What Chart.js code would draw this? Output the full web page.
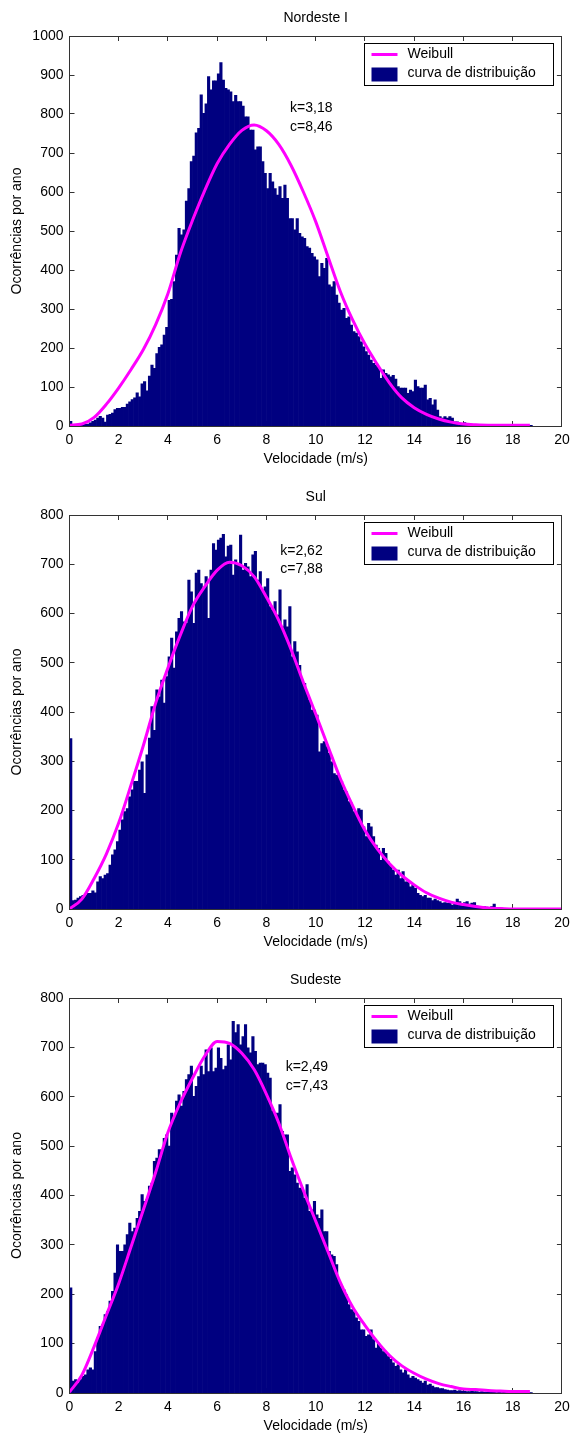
<!DOCTYPE html>
<html><head><meta charset="utf-8">
<script src="https://cdn.jsdelivr.net/npm/chart.js@4.4.1/dist/chart.umd.min.js"></script>
<style>
html,body{margin:0;padding:0;background:#fff;overflow:hidden;width:575px;height:1434px;}
.panel{position:absolute;left:0;width:575px;height:483px;}
canvas{display:block;}
</style></head><body>
<div class="panel" style="top:0px"><canvas id="c1" width="575" height="483"></canvas></div>
<div class="panel" style="top:479px"><canvas id="c2" width="575" height="483"></canvas></div>
<div class="panel" style="top:962px"><canvas id="c3" width="575" height="483"></canvas></div>
<script>
// ---------- DATA ----------
const titles = ['Nordeste I', 'Sul', 'Sudeste'];
const xTitle = 'Velocidade (m/s)';
const yTitle = 'Ocorrências por ano';
const seriesNames = ['Weibull', 'curva de distribuição'];
const binStart = 0, binWidth = 0.1;
const xTicks = [0,2,4,6,8,10,12,14,16,18,20];
const yMax = [1000, 800, 800];
const params = [['k=3,18','c=8,46'], ['k=2,62','c=7,88'], ['k=2,49','c=7,43']];

const counts1 = [
12,3,2,2,3,3,4,5,8,12,
15,20,25,20,10,28,30,33,42,45,
45,48,48,56,62,68,72,85,75,108,
114,90,128,156,148,186,202,208,233,253,
322,325,370,438,507,490,503,577,609,678,
692,752,763,849,802,826,896,862,885,885,
903,932,887,866,862,857,832,848,832,832,
820,793,793,759,759,708,716,716,678,648,
609,648,626,609,592,614,584,618,584,532,
532,503,532,494,485,481,460,456,443,434,
426,383,417,404,430,362,357,370,336,315,
297,302,276,280,259,242,238,229,216,203,
191,182,169,161,156,152,122,144,135,131,
126,130,120,101,97,97,97,84,92,88,
118,101,97,97,105,67,71,54,67,41,
24,20,24,20,24,20,11,11,7,7,
9,4,3,3,4,3,3,2,3,3,
2,3,2,2,3,2,2,3,2,2,
2,2,3,2,2,2,2,2];

const counts2 = [
346,17,18,22,25,28,28,32,32,37,
33,55,66,62,69,72,89,110,120,137,
160,181,198,204,228,242,259,259,282,299,
235,313,347,411,363,445,431,465,418,472,
512,550,489,563,590,604,583,580,668,644,
580,682,688,661,651,675,590,688,742,729,
749,753,761,715,737,739,678,709,700,759,
688,702,695,675,719,726,668,685,648,654,
671,614,607,624,597,648,573,587,573,614,
512,543,522,495,465,458,438,424,404,404,
394,319,336,340,330,316,299,275,272,269,
259,242,238,218,215,198,194,204,201,167,
147,174,167,147,130,123,99,123,113,96,
86,79,69,79,62,76,55,55,45,49,
42,32,28,25,28,22,22,17,20,17,
15,12,13,12,12,8,10,20,15,10,
13,15,10,12,13,6,5,4,5,4,
3,5,10,2,1,2,1,1,1,1,
1,1,1,1,1,1];

const counts3 = [
213,24,27,20,27,34,37,47,51,47,
84,111,135,138,159,165,186,206,243,300,
287,287,300,321,344,327,334,354,368,402,
388,392,419,425,469,476,493,489,516,523,
500,567,557,591,604,581,611,635,645,662,
601,621,641,662,645,695,651,699,651,658,
699,678,655,662,705,675,753,730,746,705,
722,746,699,689,722,692,665,668,668,665,
648,638,571,564,567,584,530,523,523,449,
456,442,425,415,415,395,422,368,371,388,
361,354,371,327,327,287,280,277,260,226,
216,209,199,179,169,165,152,145,128,128,
115,118,128,108,91,101,91,84,81,74,
68,61,54,57,47,41,47,37,30,34,
30,27,24,20,24,16,18,14,11,11,
9,9,7,6,5,5,6,4,5,4,
4,3,3,4,3,3,2,3,2,2,
3,2,2,1,2,1,2,1,1,2,
1,1,1,1,1,1,1,1];

const weibullX1 = [0,0.5,1,1.5,2,2.5,3,3.5,4,4.5,5,5.5,6,6.5,7,7.5,8,8.5,9,9.5,10,10.5,11,11.5,12,12.5,13,13.5,14,14.5,15,15.5,16,16.5,17,17.5,18,18.5,18.7];
const weibullY1 = [2,5,22,56,98,145,196,260,340,443,528,605,673,722,758,772,757,722,668,600,524,434,345,272,210,158,110,72,47,30,18,10,5,3,2,2,2,2,2];
const weibullX2 = [0,0.5,1,1.5,2,2.5,3,3.5,4,4.5,5,5.5,6,6.5,7,7.5,8,8.5,9,9.5,10,10.5,11,11.5,12,12.5,13,13.5,14,14.5,15,15.5,16,16.5,17,17.5,18,18.5,19,19.5,20];
const weibullY2 = [0,20,62,112,175,252,332,418,490,556,615,655,688,704,697,675,633,586,527,460,396,330,265,210,160,122,92,68,49,33,22,14,9,5,2,1,0,0,0,0,0];
const weibullX3 = [0,0.5,1,1.5,2,2.5,3,3.5,4,4.5,5,5.5,6,6.5,7,7.5,8,8.5,9,9.5,10,10.5,11,11.5,12,12.5,13,13.5,14,14.5,15,15.5,16,16.5,17,17.5,18,18.5,18.7];
const weibullY3 = [2,36,94,158,222,296,371,447,528,588,638,683,712,708,688,655,605,547,476,410,348,286,224,174,137,104,76,55,40,28,19,13,8,7,5,4,3,3,3];

// ---------- LAYOUT / STYLE ----------
const FONT = "'Liberation Sans', Arial, Helvetica, sans-serif";
Chart.defaults.font.family = FONT;
Chart.defaults.font.size = 14;
Chart.defaults.color = '#000';
const BAR = '#000080', LINE = '#ff00ff', AXIS = '#333';
const H = 483;
const layouts = [
  {bottom: 426, note: {x: 8.96, yk: 815, yc: 767}},
  {bottom: 430, note: {x: 8.56, yk: 727, yc: 690}},
  {bottom: 431, note: {x: 8.78, yk: 659, yc: 621}}
];

function centers(n){ return Array.from({length:n}, (_, i) => +(binStart + (i + 0.5) * binWidth).toFixed(3)); }

function decorPlugin(idx){
  const lay = layouts[idx];
  return {
    id: 'decor' + idx,
    beforeDatasetsDraw(chart){
      const {ctx, chartArea: a, scales: {x, y}} = chart;
      ctx.save();
      ctx.strokeStyle = AXIS; ctx.lineWidth = 1;
      ctx.beginPath();
      x.ticks.forEach(t => {
        const px = Math.floor(x.getPixelForValue(t.value)) + 0.5;
        ctx.moveTo(px, a.bottom); ctx.lineTo(px, a.bottom - 5);
        ctx.moveTo(px, a.top); ctx.lineTo(px, a.top + 5);
      });
      y.ticks.forEach(t => {
        const py = Math.floor(y.getPixelForValue(t.value)) + 0.5;
        ctx.moveTo(a.left, py); ctx.lineTo(a.left + 5, py);
        ctx.moveTo(a.right, py); ctx.lineTo(a.right - 5, py);
      });
      ctx.stroke();
      ctx.restore();
    },
    afterDatasetsDraw(chart){
      const {ctx, chartArea: a, scales: {x, y}} = chart;
      ctx.save();
      // frame
      ctx.strokeStyle = AXIS; ctx.lineWidth = 1;
      const l = Math.floor(a.left) + 0.5, r = Math.floor(a.right) + 0.5;
      const t = Math.floor(a.top) + 0.5, b = Math.floor(a.bottom) + 0.5;
      ctx.strokeRect(l, t, r - l, b - t);
      // parameter text
      ctx.fillStyle = '#000';
      ctx.font = '14px ' + FONT;
      ctx.textAlign = 'left'; ctx.textBaseline = 'middle';
      const nx = x.getPixelForValue(lay.note.x);
      ctx.fillText(params[idx][0], nx, y.getPixelForValue(lay.note.yk));
      ctx.fillText(params[idx][1], nx, y.getPixelForValue(lay.note.yc));
      // legend
      const lw = 189, lh = 42;
      const lx = Math.floor(a.right - 8 - lw) + 0.5, ly = Math.floor(a.top + 7) + 0.5;
      ctx.fillStyle = '#fff';
      ctx.fillRect(lx, ly, lw, lh);
      ctx.strokeStyle = '#000'; ctx.lineWidth = 1;
      ctx.strokeRect(lx, ly, lw, lh);
      ctx.strokeStyle = LINE; ctx.lineWidth = 3;
      ctx.beginPath();
      ctx.moveTo(lx + 7, ly + 11); ctx.lineTo(lx + 33, ly + 11);
      ctx.stroke();
      ctx.fillStyle = BAR;
      ctx.fillRect(lx + 7, ly + 24, 26, 14);
      ctx.fillStyle = '#000';
      ctx.fillText(seriesNames[0], lx + 43, ly + 11);
      ctx.fillText(seriesNames[1], lx + 43, ly + 30);
      ctx.restore();
    }
  };
}

function makePanel(idx, counts, wx, wy){
  const lay = layouts[idx];
  const cx = centers(counts.length);
  const xPadBottom = H - 8.4 - (lay.bottom + 33);
  new Chart(document.getElementById('c' + (idx + 1)), {
    type: 'bar',
    data: {
      datasets: [
        {type: 'line', label: seriesNames[0], data: wx.map((v, i) => ({x: v, y: wy[i]})),
         borderColor: LINE, borderWidth: 3, pointRadius: 0, fill: false,
         cubicInterpolationMode: 'monotone', order: 1},
        {type: 'bar', label: seriesNames[1], data: counts.map((v, i) => ({x: cx[i], y: v})),
         backgroundColor: BAR, borderWidth: 0, barPercentage: 1, categoryPercentage: 1, order: 2}
      ]
    },
    options: {
      responsive: false, animation: false, devicePixelRatio: 1,
      layout: {padding: {left: 0, right: 10, top: 0, bottom: 0}},
      plugins: {
        legend: {display: false}, tooltip: {enabled: false},
        title: {display: true, text: titles[idx], fullSize: false, color: '#000',
                font: {size: 14, weight: 'normal'}, padding: {top: 10, bottom: 9.2}}
      },
      scales: {
        x: {type: 'linear', min: 0, max: 20, offset: false,
            grid: {display: false, drawTicks: false}, border: {display: false},
            ticks: {stepSize: 2, padding: 5.3, maxRotation: 0, autoSkip: false, color: '#000', font: {size: 14},
                    callback: v => String(v)},
            afterBuildTicks(s){ s.ticks = xTicks.map(v => ({value: v})); },
            title: {display: true, text: xTitle, color: '#000', font: {size: 14}, padding: {top: 0, bottom: xPadBottom}},
            afterFit(s){ s.height = H - lay.bottom; }},
        y: {type: 'linear', min: 0, max: yMax[idx],
            grid: {display: false, drawTicks: false}, border: {display: false},
            ticks: {stepSize: 100, padding: 6, color: '#000', font: {size: 14}, callback: v => String(v)},
            title: {display: true, text: yTitle, color: '#000', font: {size: 14}, padding: {top: 8.6, bottom: 0}},
            afterFit(s){ s.width = 69.5; }}
      }
    },
    plugins: [decorPlugin(idx)]
  });
}

makePanel(0, counts1, weibullX1, weibullY1);
makePanel(1, counts2, weibullX2, weibullY2);
makePanel(2, counts3, weibullX3, weibullY3);
</script>
</body></html>
